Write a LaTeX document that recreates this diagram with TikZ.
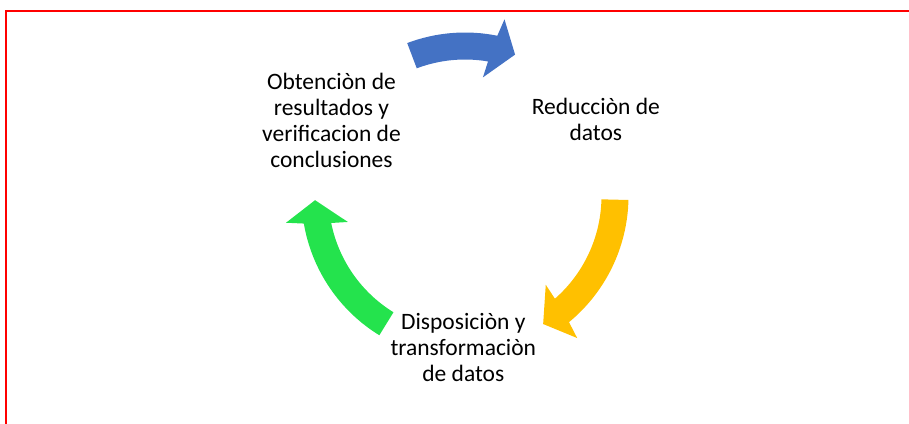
\documentclass[tikz,border=0pt]{standalone}
\usepackage{fontspec}
\setmainfont{Carlito}
\definecolor{cblue}{HTML}{4472C4}
\definecolor{cyellow}{HTML}{FFC000}
\definecolor{cgreen}{RGB}{36,227,77}
\begin{document}
\begin{tikzpicture}[x=1pt,y=-1pt,
  lbl/.style={font=\fontsize{23.5}{26.1}\selectfont, align=center, anchor=base, inner sep=0pt},
  frame/.style={draw=red, line width=2.4pt}]
\useasboundingbox (0,0) rectangle (909,423);
\clip (0,0) rectangle (909,423);
\draw[frame] (6,11) rectangle (940,460);
\begin{scope}[shift={(465,196)}, y=1pt]
  \foreach \s/\t/\c in {110.7/70.5/cblue, -1.4/-58.6/cyellow, -121.6/-178.4/cgreen} {
    \fill[\c] (\s:163.5) arc[start angle=\s, end angle=\t+8.1, radius=163.5]
      -- (\t+6.9:181) -- (\t:150) -- (\t+10.9:120) -- (\t+9.8:136.5)
      arc[start angle=\t+9.8, end angle=\s, radius=136.5] -- cycle;
  }
\end{scope}
\node[lbl] (obt) at (331.5,167.6) {Obtenciòn de\\resultados y\\verificacion de\\conclusiones};
\node[lbl] (red) at (595.8,140.4) {Reducciòn de\\datos};
\node[lbl] (dis) at (463.3,381.5) {Disposiciòn y\\transformaciòn\\de datos};
\end{tikzpicture}
\end{document}
